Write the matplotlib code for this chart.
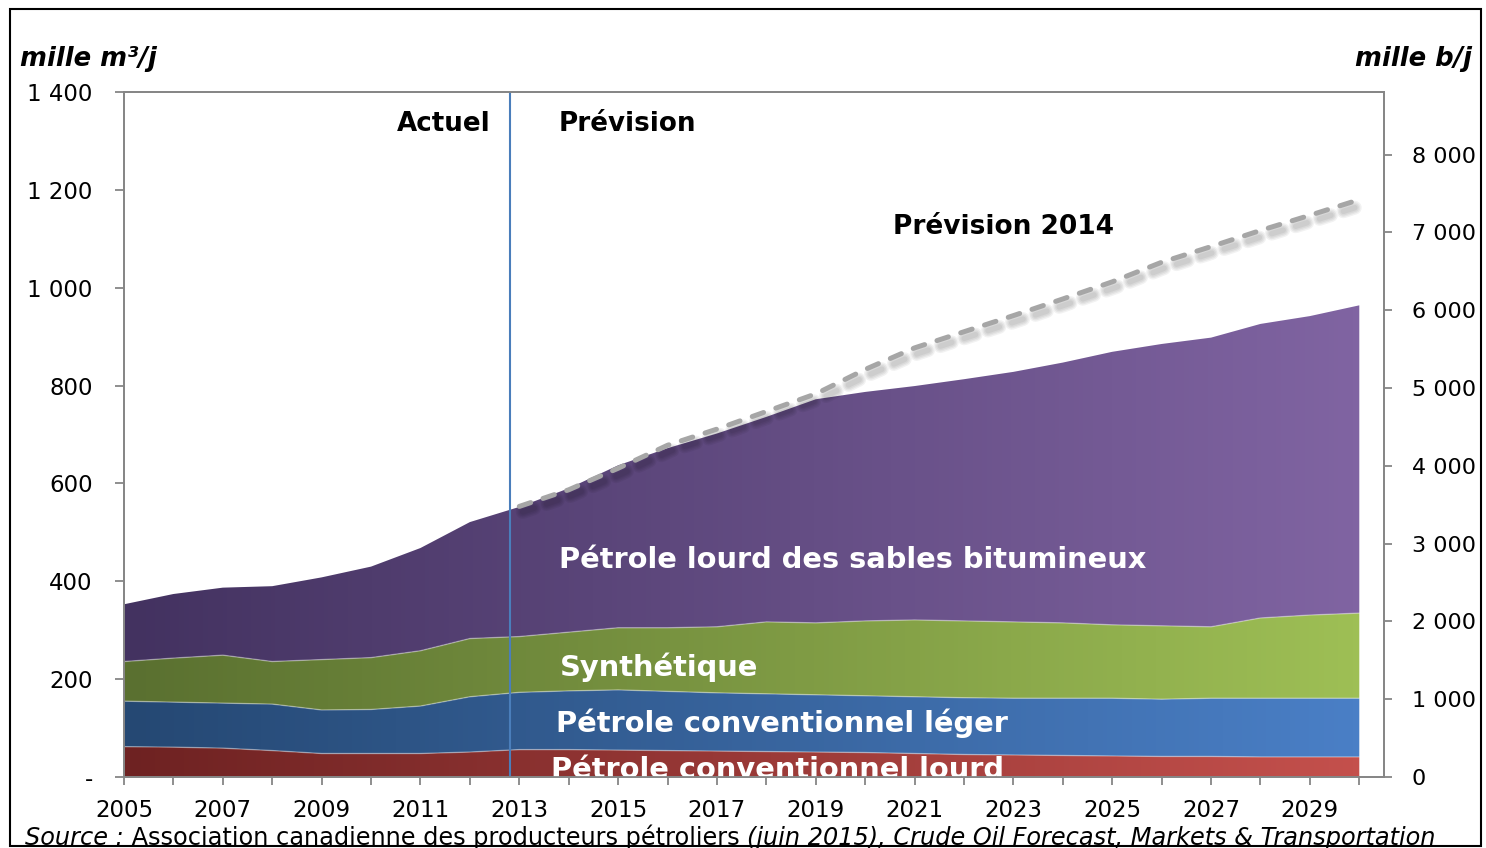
import numpy as np
import matplotlib
matplotlib.use("Agg")
import matplotlib.pyplot as plt
import matplotlib.patheffects as pe
from matplotlib.colors import LinearSegmentedColormap
from matplotlib.patches import Rectangle
from matplotlib.ticker import FuncFormatter

# --- DATA (mille m3/j) ---
years = np.arange(2005, 2031)
conv_lourd = [62, 61, 59, 54, 48, 48, 48, 51, 56, 56, 55, 54, 53, 52, 51, 50, 48, 46, 45, 44, 43, 42, 42, 41, 41, 41]
conv_leger = [93, 92, 92, 95, 89, 90, 97, 113, 117, 120, 123, 121, 119, 118, 117, 116, 116, 116, 116, 117, 118, 117, 119, 120, 120, 120]
synthetique = [81, 90, 98, 87, 103, 106, 113, 119, 114, 120, 127, 130, 135, 147, 147, 153, 157, 157, 156, 154, 150, 150, 146, 164, 170, 174]
sables = [117, 131, 138, 154, 168, 186, 210, 238, 265, 294, 332, 367, 395, 419, 457, 468, 478, 494, 511, 532, 558, 576, 591, 601, 611, 629]

prev2014_years = np.arange(2013, 2031)
prev2014 = [553, 587, 631, 678, 711, 747, 783, 833, 877, 910, 943, 977, 1012, 1052, 1084, 1117, 1148, 1180]

labels = ["Pétrole conventionnel lourd", "Pétrole conventionnel léger", "Synthétique",
          "Pétrole lourd des sables bitumineux"]
colors_left = ["#6E2222", "#254873", "#5A7030", "#433260"]
colors_right = ["#C4504C", "#4A7FC6", "#9EBF55", "#8064A2"]

M3_TO_BBL = 6.29
YMAX = 1400
SPINE = "#868686"
W, H = 1486, 848

plt.rcParams['font.family'] = ['DejaVu Sans']

fig = plt.figure(figsize=(W / 100, H / 100), dpi=100)
ax = fig.add_axes([124 / W, 71 / H, 1260 / W, 685 / H])

# --- STACKED AREAS WITH HORIZONTAL GRADIENT ---
series = [conv_lourd, conv_leger, synthetique, sables]
bottom = np.zeros(len(years))
grad = np.linspace(0, 1, 256).reshape(1, -1)
tops = []
for vals, cl, cr in zip(series, colors_left, colors_right):
    top = bottom + np.array(vals)
    poly = ax.fill_between(years, bottom, top, facecolor='none', edgecolor='none')
    cmap = LinearSegmentedColormap.from_list('g', [cl, cr])
    im = ax.imshow(grad, cmap=cmap, aspect='auto', origin='lower',
                   extent=[years[0], years[-1], 0, YMAX], interpolation='bilinear', zorder=1)
    im.set_clip_path(poly.get_paths()[0], transform=ax.transData)
    tops.append(top)
    bottom = top

# thin light separators between layers
for top in tops[:-1]:
    ax.plot(years, top, color='white', alpha=0.35, lw=1, zorder=2)

# --- 2014 FORECAST (dashed with soft shadow) ---
shadow = [pe.SimpleLineShadow(offset=(2.5, -4), shadow_color='black', alpha=0.05, linewidth=w)
          for w in (10, 8, 6, 4)]
ax.plot(prev2014_years, prev2014, color='#A6A6A6', lw=3.6, dashes=(2.4, 2.6),
        dash_capstyle='round', zorder=4, path_effects=shadow + [pe.Normal()])

# separation actual / forecast
ax.axvline(2012.81, color='#4A7EBB', lw=1.5, zorder=5)

ax.set_xlim(2005, 2030.5)
ax.set_ylim(0, YMAX)

# --- AXES STYLE ---
for s in ax.spines.values():
    s.set_color(SPINE)
    s.set_linewidth(1.3)
ax.set_yticks(np.arange(0, 1401, 200))
ax.yaxis.set_major_formatter(FuncFormatter(lambda v, p: '-' if v == 0 else f"{int(v):,}".replace(',', ' ')))
ax.set_xticks(years)
ax.set_xticklabels([str(y) if (y - 2005) % 2 == 0 else '' for y in years])
ax.tick_params(axis='y', length=6.5, width=1.3, color=SPINE, pad=16, labelsize=16.5)
ax.tick_params(axis='x', length=6, width=1.3, color=SPINE, pad=10, labelsize=16.5)

ax2 = ax.twinx()
ax2.set_ylim(0, YMAX * M3_TO_BBL)
ax2.set_yticks(np.arange(0, 8001, 1000))
ax2.yaxis.set_major_formatter(FuncFormatter(lambda v, p: f"{int(v):,}".replace(',', ' ')))
ax2.tick_params(axis='y', length=6, width=1.3, color=SPINE, pad=14, labelsize=16)
for s in ax2.spines.values():
    s.set_color(SPINE)
    s.set_linewidth(1.3)

# --- TEXT ---
ax.text(2012.41, 1320, "Actuel", fontsize=18.8, fontweight='bold', ha='right', va='baseline')
ax.text(2013.80, 1320, "Prévision", fontsize=18.8, fontweight='bold', ha='left', va='baseline')
ax.text(2020.56, 1110, "Prévision 2014", fontsize=19, fontweight='bold', ha='left', va='baseline')

lab_kw = dict(fontsize=20.8, fontweight='bold', color='white', ha='left', va='baseline', zorder=6)
ax.text(2013.80, 427, labels[3], **lab_kw)
ax.text(2013.82, 206, labels[2], **lab_kw)
ax.text(2013.74, 92, labels[1], **lab_kw)
ax.text(2013.64, -2, labels[0], clip_on=True, **lab_kw)

fig.text(20 / W, 1 - 66 / H, "mille m³/j", fontsize=18.6, fontweight='bold', style='italic', ha='left', va='baseline')
fig.text(1472 / W, 1 - 66 / H, "mille b/j", fontsize=18.6, fontweight='bold', style='italic', ha='right', va='baseline')

# source line with mixed styles
fig.canvas.draw()
r = fig.canvas.get_renderer()
parts = [("Source :", 'italic'), (" Association canadienne des producteurs pétroliers ", 'normal'),
         ("(juin 2015), Crude Oil Forecast, Markets & Transportation", 'italic')]
x = 25 / W
for txt, st in parts:
    t = fig.text(x, 3 / H, txt, fontsize=17.3, style=st, ha='left', va='baseline')
    bb = t.get_window_extent(r)
    x = bb.x1 / fig.bbox.width

# figure frame
fig.patches.append(Rectangle((10 / W, 2 / H), 1471 / W, 837 / H, transform=fig.transFigure,
                             fill=False, ec='black', lw=1.5, zorder=10))

fig.savefig("out.png", dpi=100)
